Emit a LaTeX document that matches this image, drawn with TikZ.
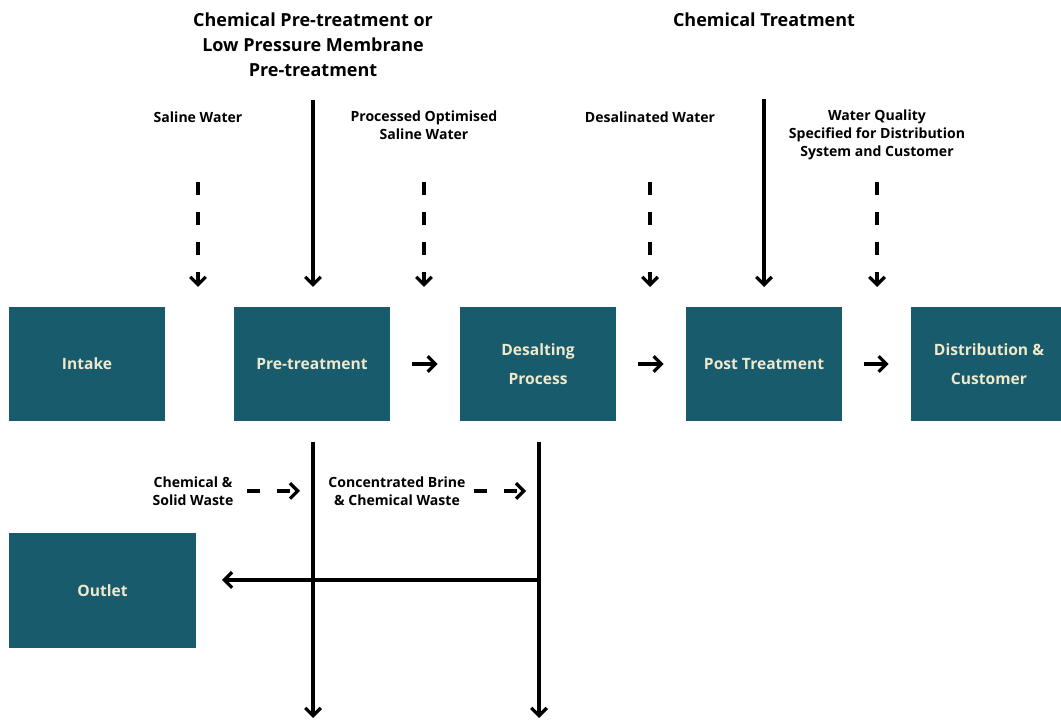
\documentclass[tikz,border=0pt]{standalone}
\usepackage{fontspec}
\setmainfont{Open Sans}
\usetikzlibrary{arrows.meta, positioning}
\definecolor{dsTeal}{HTML}{175B6D}
\definecolor{dsCream}{HTML}{F0E8CB}
\tikzset{
  stage/.style    = {rectangle, fill=dsTeal, text=dsCream, inner sep=0pt,
                     minimum width=3.9cm, minimum height=2.85cm, align=center,
                     font=\bfseries\fontsize{11.1}{21}\selectfont},
  headlbl/.style  = {align=center, inner sep=0pt,
                     font=\bfseries\fontsize{12.8}{17.8}\selectfont},
  flowlbl/.style  = {align=center, inner sep=0pt,
                     font=\bfseries\fontsize{10}{12.7}\selectfont},
  feed/.style     = {-{Straight Barb[length=5.5pt, width=11pt]}, line width=2.3pt},
  waste/.style    = {feed, dash pattern=on 9.3pt off 12pt},
}

\begin{document}
\begin{tikzpicture}[x=0.025cm, y=-0.025cm]
  \useasboundingbox (0,0) rectangle (1061,720);

  % process stages
  \node[stage] (intake)    at (87,364)  {Intake};
  \node[stage] (pretreat)  at (312,364) {Pre-treatment};
  \node[stage] (desalt)    at (538,364) {Desalting\\Process};
  \node[stage] (posttreat) at (764,364) {Post Treatment};
  \node[stage] (distrib)   at (989,364) {Distribution \&\\Customer};
  \node[stage, minimum width=4.675cm] (outlet) at (102.5,590.5) {Outlet};

  % headings and flow labels
  \node[headlbl] (chempre)  at (313,45) {Chemical Pre-treatment or\\Low Pressure Membrane\\Pre-treatment};
  \node[headlbl] (chemtreat) at (764,20) {Chemical Treatment};
  \node[flowlbl] (saline)   at (198,117) {Saline Water};
  \node[flowlbl] (optsaline) at (424,125.5) {Processed Optimised\\Saline Water};
  \node[flowlbl] (desalwat) at (650,117) {Desalinated Water};
  \node[flowlbl] (quality)  at (877,135) {Water Quality\\Specified for Distribution\\System and Customer};
  \node[flowlbl] (chemwaste) at (193,491) {Chemical \&\\Solid Waste};
  \node[flowlbl] (brine)    at (397,491) {Concentrated Brine\\\& Chemical Waste};

  % free ends of the flows
  \coordinate (salineTop)  at (198,182);
  \coordinate (salineIn)   at (198,287);
  \coordinate (optTop)     at (424,182);
  \coordinate (optIn)      at (424,287);
  \coordinate (desalTop)   at (650,182);
  \coordinate (desalIn)    at (650,287);
  \coordinate (qualTop)    at (877,182);
  \coordinate (qualIn)     at (877,287);
  \coordinate (preDose)    at (313,100);
  \coordinate (preIn)      at (313,287);
  \coordinate (postDose)   at (764,99);
  \coordinate (postIn)     at (764,287);
  \coordinate (wasteA)     at (313,442);
  \coordinate (drainA)     at (313,718);
  \coordinate (wasteB)     at (539,442);
  \coordinate (drainB)     at (539,718);
  \coordinate (brineJoin)  at (539,580);
  \coordinate (outletIn)   at (222,580);
  \coordinate (chemOut)    at (247,491);
  \coordinate (chemIn)     at (300,491);
  \coordinate (brineOut)   at (474,491);
  \coordinate (brineIn)    at (526,491);

  % main line
  \draw[feed] ([xshift=0.55cm]pretreat.east) -- ([xshift=-0.55cm]desalt.west);
  \draw[feed] ([xshift=0.55cm]desalt.east) -- ([xshift=-0.55cm]posttreat.west);
  \draw[feed] ([xshift=0.55cm]posttreat.east) -- ([xshift=-0.55cm]distrib.west);

  % water quality flows
  \draw[waste] (salineTop) -- (salineIn);
  \draw[waste] (optTop) -- (optIn);
  \draw[waste] (desalTop) -- (desalIn);
  \draw[waste] (qualTop) -- (qualIn);

  % chemical dosing
  \draw[feed] (preDose) -- (preIn);
  \draw[feed] (postDose) -- (postIn);

  % waste streams
  \draw[feed] (wasteA) -- (drainA);
  \draw[feed] (wasteB) -- (drainB);
  \draw[feed] (brineJoin) -- (outletIn);
  \draw[waste] (chemOut) -- (chemIn);
  \draw[waste] (brineOut) -- (brineIn);
\end{tikzpicture}
\end{document}
